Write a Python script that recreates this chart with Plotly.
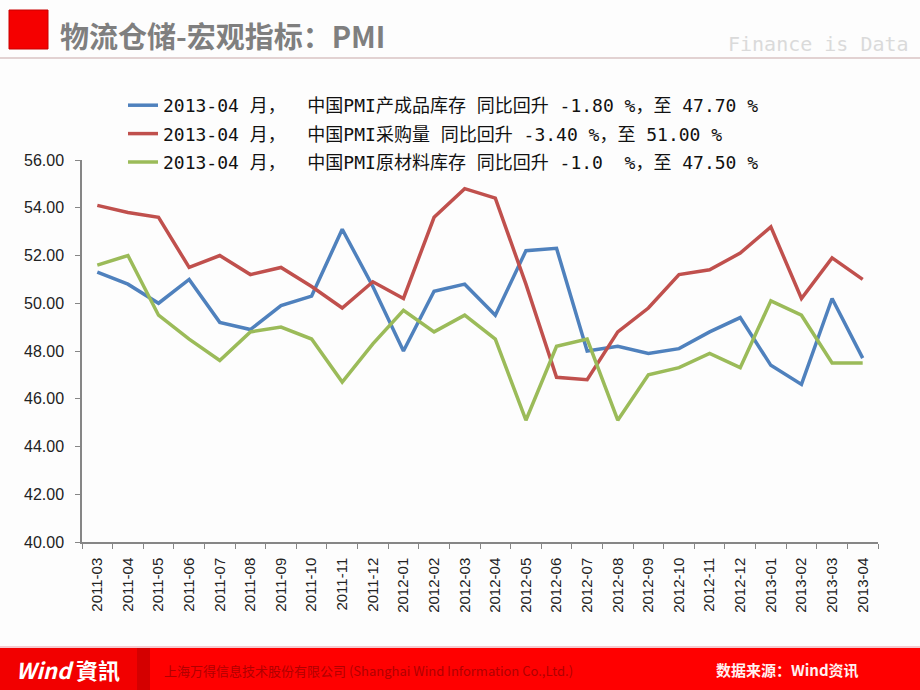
import plotly.graph_objects as go

months = ["2011-03","2011-04","2011-05","2011-06","2011-07","2011-08","2011-09","2011-10",
          "2011-11","2011-12","2012-01","2012-02","2012-03","2012-04","2012-05","2012-06",
          "2012-07","2012-08","2012-09","2012-10","2012-11","2012-12","2013-01","2013-02",
          "2013-03","2013-04"]

finished_inventory = [51.3, 50.8, 50.0, 51.0, 49.2, 48.9, 49.9, 50.3, 53.1, 50.7, 48.0, 50.5,
                      50.8, 49.5, 52.2, 52.3, 48.0, 48.2, 47.9, 48.1, 48.8, 49.4, 47.4, 46.6,
                      50.2, 47.7]
purchases = [54.1, 53.8, 53.6, 51.5, 52.0, 51.2, 51.5, 50.7, 49.8, 50.9, 50.2, 53.6,
             54.8, 54.4, 50.8, 46.9, 46.8, 48.8, 49.8, 51.2, 51.4, 52.1, 53.2, 50.2,
             51.9, 51.0]
raw_inventory = [51.6, 52.0, 49.5, 48.5, 47.6, 48.8, 49.0, 48.5, 46.7, 48.3, 49.7, 48.8,
                 49.5, 48.5, 45.1, 48.2, 48.5, 45.1, 47.0, 47.3, 47.9, 47.3, 50.1, 49.5,
                 47.5, 47.5]

series_names = ["2013-04 月，  中国PMI产成品库存 同比回升 -1.80 %，至 47.70 %",
                "2013-04 月，  中国PMI采购量 同比回升 -3.40 %，至 51.00 %",
                "2013-04 月，  中国PMI原材料库存 同比回升 -1.0  %，至 47.50 %"]
series_colors = ["#4F81BD", "#C0504D", "#9BBB59"]
y_ticks = [40, 42, 44, 46, 48, 50, 52, 54, 56]
y_labels = ["40.00", "42.00", "44.00", "46.00", "48.00", "50.00", "52.00", "54.00", "56.00"]

W, H = 920, 690
L, R, T, B = 82, 878, 160, 542

def px(x):
    return (x - L) / (R - L)

def py(y):
    return (B - y) / (B - T)

fig = go.Figure()
for i, (name, vals, col) in enumerate(zip(series_names, [finished_inventory, purchases, raw_inventory], series_colors)):
    fig.add_trace(go.Scatter(x=months, y=vals, name=name, mode="lines", legendgroup="g%d" % i,
                             line=dict(color=col, width=3.5), cliponaxis=False))

shapes = []
shapes.append(dict(type="rect", xref="paper", yref="paper", x0=px(9), x1=px(48), y0=py(49), y1=py(10),
                   fillcolor="#F50000", line=dict(color="#C80000", width=1), layer="above"))
shapes.append(dict(type="line", xref="paper", yref="paper", x0=px(0), x1=px(920), y0=py(58), y1=py(58),
                   line=dict(color="#C8A8A8", width=1.2)))
shapes.append(dict(type="rect", xref="paper", yref="paper", x0=px(0), x1=px(920), y0=py(690), y1=py(648),
                   fillcolor="#FF0000", line=dict(width=0), layer="above"))
shapes.append(dict(type="rect", xref="paper", yref="paper", x0=px(0), x1=px(137), y0=py(690), y1=py(648),
                   fillcolor="#F20000", line=dict(width=0), layer="above"))
shapes.append(dict(type="rect", xref="paper", yref="paper", x0=px(137), x1=px(150), y0=py(690), y1=py(648),
                   fillcolor="#D40000", line=dict(width=0), layer="above"))
shapes.append(dict(type="line", xref="paper", yref="paper", x0=px(0), x1=px(920), y0=py(647), y1=py(647),
                   line=dict(color="#F0B8C0", width=1.5)))

annotations = [
    dict(text="<b>物流仓储-宏观指标：PMI</b>", xref="paper", yref="paper", x=px(58), y=py(35),
         xanchor="left", yanchor="middle", showarrow=False,
         font=dict(family="Noto Sans CJK SC", size=29, color="#7F7F7F")),
    dict(text="Finance is Data", xref="paper", yref="paper", x=px(911), y=py(44),
         xanchor="right", yanchor="middle", showarrow=False,
         font=dict(family="DejaVu Sans Mono", size=20, color="#DADADA")),
    dict(text="<i><b>Wind</b></i> <b>資訊</b>", xref="paper", yref="paper", x=px(14), y=py(669),
         xanchor="left", yanchor="middle", showarrow=False,
         font=dict(family="Noto Sans CJK TC", size=22, color="#FFFFFF")),
    dict(text="上海万得信息技术股份有限公司 (Shanghai Wind Information Co.,Ltd.)", xref="paper", yref="paper",
         x=px(162), y=py(670), xanchor="left", yanchor="middle", showarrow=False,
         font=dict(family="Noto Sans CJK SC", size=13, color="#B00000")),
    dict(text="<b>数据来源：Wind资讯</b>", xref="paper", yref="paper", x=px(787), y=py(669),
         xanchor="center", yanchor="middle", showarrow=False,
         font=dict(family="Noto Sans CJK SC", size=15, color="#FFF0F0")),
]

fig.update_layout(
    width=W, height=H,
    margin=dict(l=L, r=W - R, t=T, b=H - B, autoexpand=False),
    paper_bgcolor="#FDFDFD", plot_bgcolor="#FDFDFD",
    showlegend=True,
    legend=dict(x=px(123), y=py(87), xanchor="left", yanchor="top",
                bgcolor="rgba(0,0,0,0)", tracegroupgap=2, itemwidth=30,
                font=dict(family="DejaVu Sans Mono, Noto Sans CJK SC", size=18, color="#111111")),
    shapes=shapes, annotations=annotations,
    xaxis=dict(type="category", tickson="boundaries", showgrid=False, ticks="outside", ticklen=5,
               tickcolor="#868686", showline=True, linecolor="#868686", linewidth=1.5,
               tickangle=-90, ticklabelstandoff=8,
               tickfont=dict(family="Liberation Sans", size=15, color="#222222"),
               range=[-0.5, len(months) - 0.5], zeroline=False),
    yaxis=dict(range=[40, 56], tickvals=y_ticks, ticktext=y_labels, showgrid=False,
               ticks="outside", ticklen=5, tickcolor="#868686", showline=True, linecolor="#868686",
               linewidth=1.5, ticklabelstandoff=8,
               tickfont=dict(family="Liberation Sans", size=16, color="#222222"),
               zeroline=False),
)

fig.write_html("out.html", config={"displayModeBar": False},
               post_script="document.body.style.margin='0';document.body.style.overflow='hidden';")
